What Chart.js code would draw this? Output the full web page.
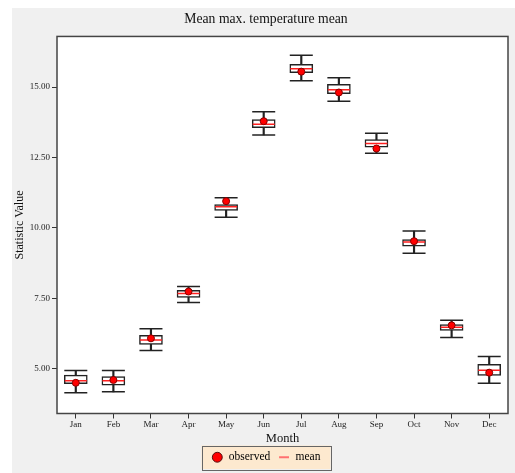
<!DOCTYPE html>
<html>
<head>
<meta charset="utf-8">
<script src="https://cdn.jsdelivr.net/npm/chart.js@4.4.1/dist/chart.umd.min.js"></script>
<style>
  html, body { margin: 0; padding: 0; background: #fff; overflow: hidden; }
  #wrap { position: absolute; left: 12px; top: 8px; width: 503px; height: 465px; background: #f0f0f0; }
</style>
</head>
<body>
<div id="wrap"><canvas id="chart" width="503" height="465"></canvas></div>
<script>
// --- data ---
const months = ['Jan', 'Feb', 'Mar', 'Apr', 'May', 'Jun', 'Jul', 'Aug', 'Sep', 'Oct', 'Nov', 'Dec'];
const whiskerLow  = [4.15, 4.18, 5.65, 7.35, 10.38, 13.30, 15.23, 14.50, 12.65, 9.10, 6.11, 4.48];
const boxLow      = [4.47, 4.42, 5.86, 7.53, 10.62, 13.56, 15.51, 14.77, 12.87, 9.35, 6.36, 4.76];
const median      = [4.57, 4.57, 6.02, 7.67, 10.75, 13.68, 15.65, 14.91, 13.00, 9.50, 6.47, 4.95];
const boxHigh     = [4.77, 4.72, 6.19, 7.78, 10.83, 13.85, 15.81, 15.10, 13.14, 9.59, 6.57, 5.16];
const whiskerHigh = [4.94, 4.94, 6.42, 7.92, 11.07, 14.13, 16.13, 15.33, 13.36, 9.89, 6.72, 5.43];
const observed    = [4.50, 4.60, 6.08, 7.74, 10.95, 13.79, 15.55, 14.81, 12.82, 9.53, 6.54, 4.86];
const yTicks = [5, 7.5, 10, 12.5, 15];

const serif = 'Liberation Serif';
const ink = '#222';

// white plot panel, peach legend box, frame around plot
const panelPlugin = {
    id: 'panel',
    beforeDraw(chart) {
        const { ctx, chartArea: a } = chart;
        ctx.save();
        ctx.fillStyle = '#fff';
        ctx.fillRect(a.left, a.top, a.right - a.left, a.bottom - a.top);
        const hb = chart.legend.legendHitBoxes;
        if (hb && hb.length) {
            const l = Math.min(...hb.map(h => h.left)) - 10;
            const r = Math.max(...hb.map(h => h.left + h.width)) + 10;
            const t = hb[0].top - 6;
            const b = hb[0].top + hb[0].height + 6;
            ctx.fillStyle = '#fde9cf';
            ctx.fillRect(l, t, r - l, b - t);
            ctx.strokeStyle = '#666';
            ctx.lineWidth = 1;
            ctx.strokeRect(Math.round(l) + 0.5, Math.round(t) + 0.5, Math.round(r - l), Math.round(b - t));
        }
        ctx.restore();
    },
    afterDraw(chart) {
        const { ctx, chartArea: a } = chart;
        ctx.save();
        ctx.strokeStyle = '#444';
        ctx.lineWidth = 1.5;
        ctx.strokeRect(a.left, a.top, a.right - a.left, a.bottom - a.top);
        ctx.restore();
    }
};

new Chart(document.getElementById('chart').getContext('2d'), {
    type: 'bar',
    data: {
        labels: months,
        datasets: [
            {
                label: 'whisker',
                data: months.map((m, i) => [whiskerLow[i], whiskerHigh[i]]),
                backgroundColor: ink,
                borderWidth: 0,
                barThickness: 1.5,
                grouped: false,
                order: 6
            },
            {
                label: 'box',
                data: months.map((m, i) => [boxLow[i], boxHigh[i]]),
                backgroundColor: '#fff',
                borderColor: ink,
                borderWidth: 1.5,
                borderSkipped: false,
                barThickness: 23,
                grouped: false,
                order: 5
            },
            {
                type: 'line',
                label: 'capLow',
                data: whiskerLow,
                showLine: false,
                pointStyle: 'line',
                pointRadius: 11.5,
                pointBorderWidth: 1.5,
                borderColor: ink,
                order: 4
            },
            {
                type: 'line',
                label: 'capHigh',
                data: whiskerHigh,
                showLine: false,
                pointStyle: 'line',
                pointRadius: 11.5,
                pointBorderWidth: 1.5,
                borderColor: ink,
                order: 4
            },
            {
                type: 'line',
                label: 'mean',
                data: median,
                showLine: false,
                pointStyle: 'line',
                pointRadius: 11,
                pointBorderWidth: 1.5,
                borderColor: '#ff2020',
                order: 3
            },
            {
                type: 'line',
                label: 'observed',
                data: observed,
                showLine: false,
                pointStyle: 'circle',
                pointRadius: 3.5,
                pointBorderWidth: 1,
                backgroundColor: '#ff0000',
                borderColor: '#8a0000',
                order: 1
            }
        ]
    },
    options: {
        responsive: false,
        animation: false,
        layout: { autoPadding: false, padding: { left: 12, right: 7, top: 0, bottom: 0 } },
        plugins: {
            tooltip: { enabled: false },
            title: {
                display: true,
                text: 'Mean max. temperature mean',
                color: '#111',
                font: { family: serif, size: 13.7, weight: 'normal' },
                padding: { top: 3, bottom: 9 }
            },
            legend: {
                position: 'bottom',
                onClick: null,
                labels: {
                    usePointStyle: true,
                    boxHeight: 7,
                    padding: 8,
                    color: '#111',
                    font: { family: serif, size: 11.5 },
                    generateLabels: () => [
                        { text: 'observed', pointStyle: 'circle', fillStyle: '#ff0000', strokeStyle: '#551111', lineWidth: 1, hidden: false },
                        { text: 'mean', pointStyle: 'line', fillStyle: '#ff7070', strokeStyle: '#ff7070', lineWidth: 2, hidden: false }
                    ]
                }
            }
        },
        scales: {
            x: {
                offset: true,
                border: { display: false },
                grid: { offset: false, drawOnChartArea: false, drawTicks: true, tickLength: 5, color: '#333' },
                ticks: { color: ink, font: { family: serif, size: 9 }, padding: 1, maxRotation: 0 },
                title: { display: true, text: 'Month', color: '#111', font: { family: serif, size: 12.5 }, padding: { top: 0, bottom: -3 } },
                afterFit(scale) {
                    scale.height = 30;
                    scale.paddingLeft = 0;
                    scale.paddingRight = 0;
                }
            },
            y: {
                min: 3.41,
                max: 16.8,
                border: { display: false },
                grid: { drawOnChartArea: false, drawTicks: true, tickLength: 5, color: '#333' },
                ticks: { color: ink, font: { family: serif, size: 9 }, padding: 2, callback: v => Number(v).toFixed(2) },
                afterBuildTicks(scale) { scale.ticks = yTicks.map(v => ({ value: v })); },
                title: { display: true, text: 'Statistic Value', color: '#111', font: { family: serif, size: 12 }, padding: { top: -11, bottom: 4 } },
                afterFit(scale) { scale.width = 33; }
            }
        }
    },
    plugins: [panelPlugin]
});
</script>
</body>
</html>
